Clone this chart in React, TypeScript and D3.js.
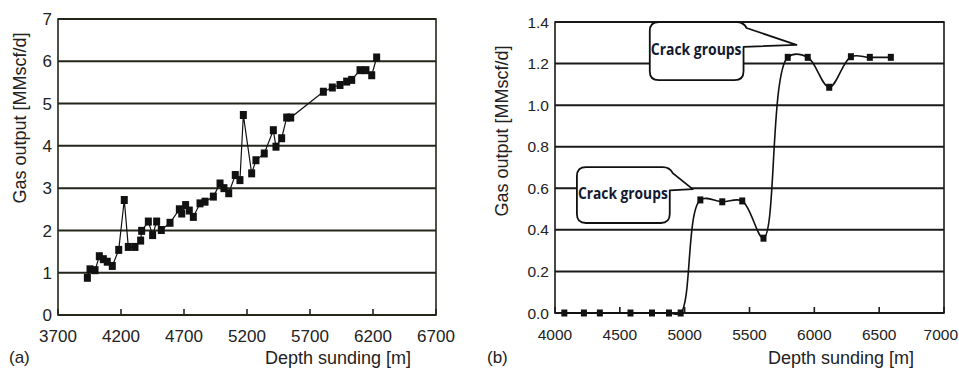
import React, { useRef, useEffect } from 'react';
import * as d3 from 'd3';

// Panel (a): depth [m] vs gas output [MMscf/d]
const depthA = [3933, 3954, 3994, 4028, 4060, 4091, 4131, 4182, 4226, 4258, 4311, 4356, 4364, 4417, 4451, 4483, 4520, 4589, 4663, 4682, 4713, 4742, 4774, 4827, 4867, 4933, 4986, 5017, 5055, 5107, 5144, 5171, 5237, 5271, 5337, 5409, 5430, 5475, 5515, 5547, 5806, 5877, 5938, 5991, 6031, 6097, 6144, 6190, 6229];
const gasA = [0.88, 1.08, 1.06, 1.39, 1.32, 1.26, 1.16, 1.54, 2.72, 1.61, 1.61, 1.76, 1.99, 2.21, 1.89, 2.21, 2.01, 2.18, 2.5, 2.4, 2.6, 2.47, 2.32, 2.64, 2.68, 2.8, 3.11, 3.0, 2.88, 3.31, 3.19, 4.73, 3.35, 3.66, 3.82, 4.37, 3.98, 4.18, 4.67, 4.67, 5.28, 5.38, 5.44, 5.52, 5.56, 5.79, 5.79, 5.67, 6.09];

// Panel (b)
const depthB = [4072, 4223, 4346, 4582, 4748, 4879, 4969, 5121, 5290, 5444, 5608, 5795, 5949, 6115, 6282, 6428, 6590];
const gasB = [0, 0, 0, 0, 0, 0, 0, 0.544, 0.535, 0.539, 0.36, 1.23, 1.23, 1.086, 1.233, 1.23, 1.23];

const ticksAX = [3700, 4200, 4700, 5200, 5700, 6200, 6700];
const ticksAY = [0, 1, 2, 3, 4, 5, 6, 7];
const ticksBX = [4000, 4500, 5000, 5500, 6000, 6500, 7000];
const ticksBY = [0, 0.2, 0.4, 0.6, 0.8, 1.0, 1.2, 1.4];

// Callout bubbles on panel (b), in data units
const calloutLabels = ['Crack groups', 'Crack groups'];
const calloutX0 = [4731, 4169];
const calloutX1 = [5454, 4885];
const calloutTop = [1.4, 0.702];
const calloutBottom = [1.12, 0.433];
const calloutNeck = [5400, 4831];
const calloutTipX = [5862, 5062];
const calloutTipY = [1.29, 0.596];
const calloutBaseY = [1.28, 0.59];

const FONT = 'Liberation Sans, Arial, Helvetica, sans-serif';

interface PanelOpts {
  xs: number[];
  ys: number[];
  xDomain: [number, number];
  yDomain: [number, number];
  xRange: [number, number];
  yRange: [number, number];
  xTicks: number[];
  yTicks: number[];
  yFormat: (v: number) => string;
  tickSize: number;
  tag: string;
  tagX: number;
  xLabelX: number;
  yLabelX: number;
  yLabelY: number;
  gridColor: string;
  smooth: boolean;
  marker: [number, number];
}

const drawPanel = (svg: d3.Selection<SVGSVGElement, unknown, null, undefined>, o: PanelOpts) => {
  const x = d3.scaleLinear().domain(o.xDomain).range(o.xRange);
  const y = d3.scaleLinear().domain(o.yDomain).range(o.yRange);
  const g = svg.append('g');
  const [left, right] = o.xRange;
  const [bottom, top] = o.yRange;

  // gridlines
  o.yTicks.forEach(t => {
    g.append('line')
      .attr('x1', left).attr('x2', right)
      .attr('y1', y(t)).attr('y2', y(t))
      .attr('stroke', o.gridColor)
      .attr('stroke-width', 2);
  });

  // frame
  g.append('rect')
    .attr('x', left).attr('y', top)
    .attr('width', right - left).attr('height', bottom - top)
    .attr('fill', 'none')
    .attr('stroke', o.gridColor)
    .attr('stroke-width', 1.6);

  // inward x ticks
  const halfLabel = o.tickSize * 0.556 * 2;
  o.xTicks.forEach(t => {
    g.append('line')
      .attr('x1', x(t)).attr('x2', x(t))
      .attr('y1', bottom).attr('y2', bottom - 6)
      .attr('stroke', o.gridColor)
      .attr('stroke-width', 1.6);
    g.append('text')
      .attr('x', Math.min(x(t), 958 - halfLabel))
      .attr('y', bottom + 27)
      .attr('text-anchor', 'middle')
      .attr('font-family', FONT).attr('font-size', o.tickSize)
      .attr('fill', '#222')
      .text(String(t));
  });

  o.yTicks.forEach(t => {
    g.append('text')
      .attr('x', left - 6).attr('y', y(t))
      .attr('dy', '0.36em')
      .attr('text-anchor', 'end')
      .attr('font-family', FONT).attr('font-size', o.tickSize)
      .attr('fill', '#222')
      .text(o.yFormat(t));
  });

  // line
  const line = d3.line<number>()
    .x((_, i) => x(o.xs[i]))
    .y(d => y(d))
    .curve(o.smooth ? d3.curveCatmullRom.alpha(0.5) : d3.curveLinear);
  g.append('path')
    .attr('d', line(o.ys))
    .attr('fill', 'none')
    .attr('stroke', '#111')
    .attr('stroke-width', o.smooth ? 1.6 : 1.2);

  // markers
  const [mw, mh] = o.marker;
  o.ys.forEach((v, i) => {
    g.append('rect')
      .attr('x', x(o.xs[i]) - mw / 2)
      .attr('y', y(v) - mh / 2)
      .attr('width', mw).attr('height', mh)
      .attr('fill', '#111');
  });

  // axis titles
  g.append('text')
    .attr('transform', `translate(${o.yLabelX},${o.yLabelY}) rotate(-90)`)
    .attr('text-anchor', 'middle')
    .attr('dy', '0.35em')
    .attr('font-family', FONT).attr('font-size', 18)
    .attr('fill', '#222')
    .text('Gas output [MMscf/d]');

  g.append('text')
    .attr('x', o.xLabelX).attr('y', 364)
    .attr('font-family', FONT).attr('font-size', 18)
    .attr('fill', '#222')
    .text('Depth sunding [m]');

  g.append('text')
    .attr('x', o.tagX).attr('y', 363)
    .attr('font-family', FONT).attr('font-size', 17)
    .attr('fill', '#222')
    .text(o.tag);

  return { x, y, g };
};

const App: React.FC = () => {
  const svgRef = useRef<SVGSVGElement>(null);
  const width = 959;
  const height = 372;

  useEffect(() => {
    if (!svgRef.current) return;
    const svg = d3.select(svgRef.current);
    svg.selectAll('*').remove();

    drawPanel(svg, {
      xs: depthA, ys: gasA,
      xDomain: [3700, 6700], yDomain: [0, 7],
      xRange: [58, 436], yRange: [315, 19],
      xTicks: ticksAX, yTicks: ticksAY,
      yFormat: v => String(v),
      tickSize: 17,
      tag: '(a)', tagX: 9, xLabelX: 265,
      yLabelX: 20, yLabelY: 118,
      gridColor: '#23271b', smooth: false,
      marker: [7, 8],
    });

    const b = drawPanel(svg, {
      xs: depthB, ys: gasB,
      xDomain: [4000, 7000], yDomain: [0, 1.4],
      xRange: [555, 944], yRange: [313, 22],
      xTicks: ticksBX, yTicks: ticksBY,
      yFormat: v => v.toFixed(1),
      tickSize: 15.5,
      tag: '(b)', tagX: 487, xLabelX: 768,
      yLabelX: 502, yLabelY: 131,
      gridColor: '#1a1a1a', smooth: true,
      marker: [6, 7],
    });

    // Callouts
    calloutLabels.forEach((label, i) => {
      const x0 = b.x(calloutX0[i]);
      const x1 = b.x(calloutX1[i]);
      const yt = b.y(calloutTop[i]);
      const yb = b.y(calloutBottom[i]);
      const nx = b.x(calloutNeck[i]);
      const tx = b.x(calloutTipX[i]);
      const ty = b.y(calloutTipY[i]);
      const by = b.y(calloutBaseY[i]);
      const r = 9;
      const p = d3.path();
      p.moveTo(x0 + r, yt);
      p.lineTo(nx, yt);
      p.quadraticCurveTo(nx + 7, yt, nx + 10, yt + 6);
      p.lineTo(tx, ty);
      p.lineTo(x1, by);
      p.lineTo(x1, yb - r);
      p.quadraticCurveTo(x1, yb, x1 - r, yb);
      p.lineTo(x0 + r, yb);
      p.quadraticCurveTo(x0, yb, x0, yb - r);
      p.lineTo(x0, yt + r);
      p.quadraticCurveTo(x0, yt, x0 + r, yt);
      p.closePath();
      b.g.append('path')
        .attr('d', p.toString())
        .attr('fill', '#fff')
        .attr('stroke', '#111')
        .attr('stroke-width', 1.8)
        .attr('stroke-linejoin', 'round');
      b.g.append('text')
        .attr('x', x0 + 1)
        .attr('y', (yt + yb) / 2 + 4)
        .attr('font-family', 'Open Sans, DejaVu Sans Condensed, sans-serif')
        .attr('font-weight', 700)
        .attr('font-size', 16)
        .attr('textLength', x1 - x0 - 3)
        .attr('lengthAdjust', 'spacingAndGlyphs')
        .attr('fill', '#121a30')
        .text(label);
    });
  }, []);

  return (
    <svg
      ref={svgRef}
      width={width}
      height={height}
      style={{ position: 'absolute', left: 0, top: 0, background: '#fff', display: 'block' }}
    />
  );
};

export default App;
